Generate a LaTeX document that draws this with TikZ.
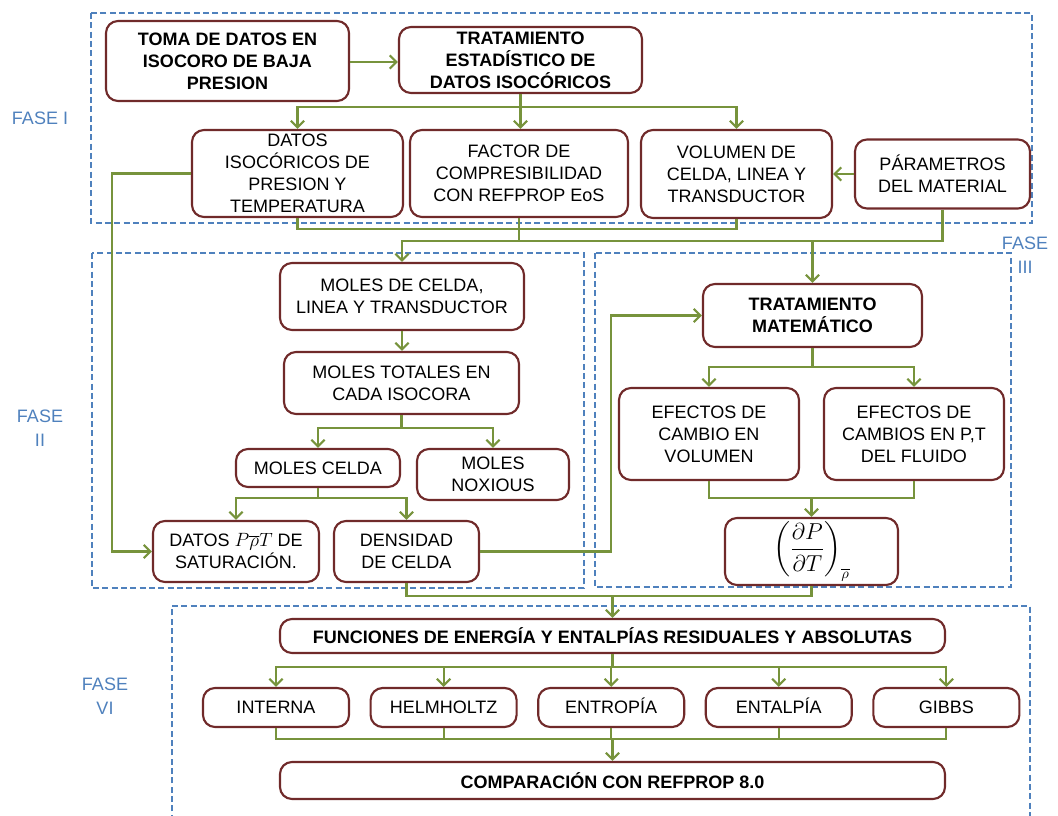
\documentclass[tikz,border=0pt]{standalone}
\usepackage{amsmath}
\usepackage{fontspec}
\setmainfont{Liberation Sans}
\usepackage{tikz}
\usetikzlibrary{arrows.meta, positioning}
\usepackage{xcolor}
\definecolor{boxred}{RGB}{112,42,42}
\definecolor{linkgreen}{RGB}{119,147,60}
\definecolor{phaseblue}{RGB}{79,129,189}
\tikzset{boxsize/.style 2 args={minimum width=#1*0.75pt, minimum height=#2*0.75pt}}

\begin{document}
\begin{tikzpicture}[
    x=0.75pt, y=-0.75pt,
    every node/.style={draw=boxred, line width=1.6pt, rectangle, rounded corners=9pt, fill=white, align=center, inner sep=1pt, font=\fontsize{13.5}{16.5}\selectfont},
    heading/.style={font=\fontsize{13.5}{16.5}\selectfont\bfseries},
    energy/.style={boxsize={146}{39}, text height=9.7pt, text depth=0pt},
    link/.style={draw=linkgreen, line width=1.6pt},
    arrow/.style={link, -{Straight Barb[length=5pt, width=10pt]}},
    phase/.style={draw=phaseblue, line width=1pt, dash pattern=on 4.5pt off 2.5pt},
    phaselabel/.style={draw=none, fill=none, text=phaseblue, font=\fontsize{13.5}{18}\selectfont}
]
\useasboundingbox (0,0) rectangle (1058,816);

% Phases
\draw[phase] (91,13) rectangle (1032,223);
\draw[phase] (92,253) rectangle (584,588);
\draw[phase] (595,253) rectangle (1011,587);
\draw[phase] (172,830) -- (172,606) -- (1030,606) -- (1030,830);
\node[phaselabel] (fase1) at (40,118) {FASE I};
\node[phaselabel] (fase2) at (40,428) {FASE\\II};
\node[phaselabel] (fase3) at (1025,255) {FASE\\III};
\node[phaselabel] (fase6) at (105,696) {FASE\\VI};

% Nodes - fase I
\node[heading, boxsize={243}{80}] (toma) at (227.5,61) {TOMA DE DATOS EN\\ISOCORO DE BAJA\\PRESION};
\node[heading, boxsize={243}{66}] (tratest) at (520.5,60) {TRATAMIENTO\\ESTADÍSTICO DE\\DATOS ISOCÓRICOS};
\node[boxsize={211}{87}] (datosiso) at (297.5,173.5) {DATOS\\ISOCÓRICOS DE\\PRESION Y\\TEMPERATURA};
\node[boxsize={218}{87}] (factor) at (519,173.5) {FACTOR DE\\COMPRESIBILIDAD\\CON REFPROP EoS};
\node[boxsize={191}{88}] (volumen) at (736.5,174) {VOLUMEN DE\\CELDA, LINEA Y\\TRANSDUCTOR};
\node[boxsize={175}{69}] (param) at (942.5,174) {PÁRAMETROS\\DEL MATERIAL};

% Nodes - fase II
\node[boxsize={244}{67}] (molesdc) at (402,296.5) {MOLES DE CELDA,\\LINEA Y TRANSDUCTOR};
\node[boxsize={235}{62}] (molestot) at (401.5,383) {MOLES TOTALES EN\\CADA ISOCORA};
\node[boxsize={164}{38}] (molescel) at (318,468) {MOLES CELDA};
\node[boxsize={152}{51}] (noxious) at (493,474.5) {MOLES\\NOXIOUS};
\node[boxsize={166}{61}] (datospt) at (236,551.5) {DATOS \(P\overline{\rho}T\) DE\\SATURACIÓN.};
\node[boxsize={145}{61}] (densidad) at (406.5,551.5) {DENSIDAD\\DE CELDA};

% Nodes - fase III
\node[heading, boxsize={219}{63}] (tratmat) at (812.5,315.5) {TRATAMIENTO\\MATEMÁTICO};
\node[boxsize={180}{92}] (efvol) at (709,434) {EFECTOS DE\\CAMBIO EN\\VOLUMEN};
\node[boxsize={180}{92}] (efpt) at (914,434) {EFECTOS DE\\CAMBIOS EN P,T\\DEL FLUIDO};
\node[boxsize={173}{67}, font=\fontsize{16}{19}\selectfont] (dpdt) at (811.5,551.5) {\(\left(\dfrac{\partial P}{\partial T}\right)_{\overline{\rho}}\)};

% Nodes - fase VI
\node[heading, boxsize={665}{34}] (funciones) at (612.5,636) {FUNCIONES DE ENERGÍA Y ENTALPÍAS RESIDUALES Y ABSOLUTAS};
\node[energy] (interna) at (276,707.5) {INTERNA};
\node[energy, right=14.6pt of interna] (helm) {HELMHOLTZ};
\node[energy, right=14.6pt of helm] (entropia) {ENTROPÍA};
\node[energy, right=14.6pt of entropia] (entalpia) {ENTALPÍA};
\node[energy, right=14.6pt of entalpia] (gibbs) {GIBBS};
\node[heading, boxsize={665}{37}] (comparacion) at (612.5,780.5) {COMPARACIÓN CON REFPROP 8.0};

% Junctions
\coordinate (j1) at (520.5,107);
\coordinate (j2) at (519,229);
\coordinate (j3) at (519,241);
\coordinate (j4) at (401.5,428);
\coordinate (j5) at (318,498);
\coordinate (j6) at (812.5,367);
\coordinate (j7) at (811.5,498);
\coordinate (j8) at (612.5,596);
\coordinate (j9) at (612.5,667);
\coordinate (j10) at (612.5,739);

% Arrows - fase I
\draw[arrow] (toma.east |- 0,62) -- (tratest.west |- 0,62);
\draw[link] (tratest.south) -- (j1);
\draw[arrow] (j1) -| (datosiso.north);
\draw[arrow] (j1) -| (volumen.north);
\draw[arrow] (j1) -- (j1 |- factor.north);
\draw[arrow] (param.west) -- (param.west -| volumen.east);
\draw[link] (datosiso.south) |- (j2) -| (volumen.south);
\draw[link] (factor.south) -- (j3);
\draw[link] (param.south) |- (j3);
\draw[arrow] (j3) -| (molesdc.north);
\draw[arrow] (tratmat.north |- j3) -- (tratmat.north);
\draw[arrow] (datosiso.west) -- ++(-79,0) |- (datospt.west);

% Arrows - fase II
\draw[arrow] (molesdc.south) -- (molesdc.south |- molestot.north);
\draw[link] (molestot.south) -- (j4);
\draw[arrow] (j4) -| (molescel.north);
\draw[arrow] (j4) -| (noxious.north);
\draw[link] (molescel.south) -- (j5);
\draw[arrow] (j5) -| (datospt.north);
\draw[arrow] (j5) -| (densidad.north);
\draw[arrow] (densidad.east) -- ++(131,0) |- (tratmat.west);

% Arrows - fase III
\draw[link] (tratmat.south) -- (j6);
\draw[arrow] (j6) -| (efvol.north);
\draw[arrow] (j6) -| (efpt.north);
\draw[link] (efvol.south) |- (j7) -| (efpt.south);
\draw[arrow] (j7) -- (dpdt.north);
\draw[link] (densidad.south) |- (j8) -| (dpdt.south);
\draw[arrow] (j8) -- (funciones.north);

% Arrows - fase VI
\draw[link] (funciones.south) -- (j9);
\foreach \n in {interna, helm, entropia, entalpia, gibbs} {
    \draw[arrow] (j9) -| (\n.north);
    \draw[link] (\n.south) |- (j10);
}
\draw[arrow] (j10) -- (comparacion.north);

\end{tikzpicture}
\end{document}
